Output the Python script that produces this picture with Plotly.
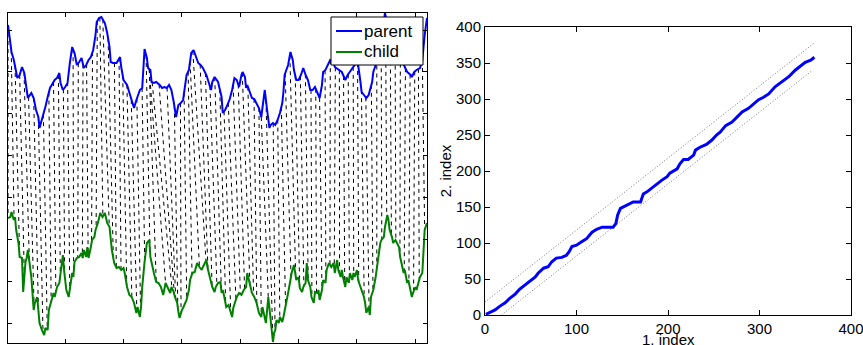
import numpy as np
import plotly.graph_objects as go

# ---------------- data ----------------
parent_idx = [1, 4, 6, 7, 9, 11, 13, 15, 17, 18, 21, 23, 25, 27, 28, 30, 33, 35, 37, 39, 41, 43, 45, 46, 48, 50,
              52, 54, 56, 58, 60, 62, 64, 66, 68, 70, 72, 74, 76, 77, 79, 81, 84, 86, 88, 89, 91, 94, 96, 97, 98,
              100, 103, 105, 107, 109, 111, 114, 116, 117, 118, 120, 121, 123, 124, 126, 128, 131, 133, 135, 137,
              139, 141, 143, 145, 147, 149, 151, 154, 156, 158, 160, 162, 164, 166, 168, 171, 173, 175, 176, 178,
              181, 182, 184, 185, 187, 189, 191, 193, 195, 197, 199, 201, 202, 204, 205, 206, 208, 210, 212, 214,
              216, 218, 220, 221, 223, 225, 226, 228, 230, 232, 234, 236, 237, 238, 241, 243, 245, 246, 248, 250,
              252, 254, 256, 258, 260, 262, 264, 266, 268, 270, 271, 273, 275, 277, 280, 281, 287, 290, 292, 294,
              296, 298, 300, 301, 303, 304, 306, 308, 310, 311, 313, 314, 316, 318, 322, 324, 327, 330, 334, 337,
              341, 343, 346, 347, 349, 351, 354, 356, 358, 360]
parent_val = [318, 291, 283, 278, 265, 268, 276, 270, 253, 245, 250, 245, 233, 226, 215, 223, 236, 246, 255, 259,
              263, 265, 270, 260, 253, 256, 260, 280, 296, 290, 278, 281, 285, 275, 278, 283, 286, 293, 308, 321,
              325, 326, 320, 310, 296, 281, 280, 280, 285, 286, 276, 263, 258, 250, 241, 235, 243, 253, 255, 280,
              294, 285, 275, 273, 261, 260, 261, 258, 255, 256, 255, 258, 253, 241, 226, 238, 240, 243, 268, 273,
              290, 293, 286, 280, 278, 275, 268, 261, 253, 261, 266, 261, 256, 246, 230, 233, 238, 244, 253, 265,
              263, 256, 268, 271, 266, 255, 258, 251, 245, 244, 240, 235, 226, 243, 253, 233, 215, 218, 220, 218,
              223, 230, 240, 251, 268, 278, 291, 283, 273, 263, 263, 268, 275, 268, 263, 253, 253, 256, 251, 245,
              258, 271, 273, 278, 283, 280, 276, 271, 263, 268, 271, 275, 278, 282, 278, 261, 251, 248, 245, 248,
              253, 261, 271, 278, 293, 313, 330, 313, 298, 303, 288, 276, 271, 268, 266, 271, 273, 275, 283, 308,
              325]

child_idx = [1, 3, 4, 6, 7, 8, 10, 11, 13, 14, 16, 17, 18, 20, 21, 23, 24, 26, 27, 28, 30, 32, 33, 35, 36, 38, 40,
             41, 43, 45, 46, 48, 49, 51, 53, 54, 56, 57, 58, 60, 62, 64, 65, 66, 68, 69, 70, 72, 73, 75, 76, 78, 80,
             82, 84, 86, 88, 90, 92, 94, 96, 98, 100, 101, 103, 105, 107, 109, 111, 112, 114, 115, 116, 118, 120,
             122, 123, 126, 128, 130, 132, 134, 135, 136, 138, 140, 141, 143, 144, 146, 147, 148, 150, 151, 154,
             156, 157, 159, 161, 163, 165, 167, 168, 171, 172, 174, 176, 178, 179, 181, 183, 184, 185, 186, 188,
             190, 192, 193, 194, 196, 197, 199, 201, 203, 205, 206, 208, 210, 212, 214, 216, 218, 219, 221, 222,
             224, 225, 226, 228, 229, 230, 231, 233, 234, 236, 237, 238, 240, 241, 243, 244, 246, 247, 248, 250,
             251, 253, 254, 256, 257, 258, 260, 261, 263, 264, 266, 267, 268, 270, 271, 273, 274, 276, 278, 280,
             281, 283, 284, 286, 287, 288, 290, 291, 293, 294, 296, 297, 298, 300, 301, 303, 304, 306, 307, 308,
             310, 311, 312, 314, 316, 317, 318, 320, 321, 323, 324, 326, 327, 328, 330, 331, 333, 334, 336, 337,
             338, 340, 341, 343, 344, 346, 347, 348, 350, 351, 353, 354, 356, 357, 358, 360]
child_val = [125, 126, 131, 123, 126, 113, 100, 86, 85, 51, 81, 85, 93, 76, 66, 33, 40, 46, 36, 20, 13, 8, 15, 13,
             33, 41, 50, 46, 56, 60, 70, 88, 73, 53, 46, 56, 70, 66, 81, 85, 86, 90, 85, 93, 86, 96, 85, 96, 103,
             106, 113, 120, 130, 126, 130, 120, 116, 93, 80, 75, 76, 73, 75, 70, 56, 48, 46, 40, 30, 36, 26, 36, 56,
             81, 100, 103, 86, 70, 61, 60, 56, 48, 56, 60, 55, 50, 56, 51, 46, 40, 31, 25, 33, 35, 43, 53, 63, 70,
             71, 80, 76, 73, 76, 83, 75, 66, 56, 51, 56, 60, 61, 50, 53, 48, 36, 38, 30, 26, 35, 43, 46, 50, 48, 53,
             56, 70, 61, 50, 46, 40, 30, 26, 36, 25, 20, 46, 33, 20, 1, 10, 13, 23, 20, 26, 21, 26, 33, 43, 50, 63,
             70, 78, 70, 63, 66, 55, 51, 56, 60, 80, 63, 56, 46, 40, 51, 50, 53, 43, 53, 63, 60, 73, 80, 76, 80, 70,
             83, 73, 66, 73, 66, 56, 66, 60, 70, 63, 70, 66, 73, 63, 56, 53, 46, 40, 30, 36, 28, 46, 53, 66, 76, 86,
             100, 103, 106, 116, 128, 123, 113, 106, 100, 103, 100, 96, 86, 80, 70, 73, 60, 63, 53, 46, 50, 56, 53,
             63, 66, 70, 100, 113, 120]

# warping path (1. index = child, 2. index = parent)
path_i = [1, 5, 11, 16, 22, 27, 33, 38, 44, 49, 55, 58, 64, 69, 71, 73, 78, 84, 89, 92, 95, 100, 106, 111, 117,
          122, 128, 133, 140, 143, 145, 148, 153, 158, 162, 170, 173, 177, 182, 188, 193, 199, 202, 210, 213, 217,
          222, 228, 230, 235, 242, 248, 253, 257, 263, 270, 275, 281, 288, 295, 299, 304, 310, 317, 325, 332, 339,
          346, 350, 356, 360]
path_j = [1, 3, 7, 12, 17, 23, 29, 36, 42, 48, 53, 58, 65, 67, 71, 74, 79, 80, 83, 88, 95, 97, 102, 106, 115, 119,
          122, 122, 122, 127, 139, 148, 151, 155, 157, 157, 168, 171, 176, 183, 187, 192, 197, 203, 210, 216, 216,
          222, 229, 233, 237, 243, 250, 254, 263, 268, 275, 282, 287, 294, 299, 302, 307, 317, 324, 331, 340, 347,
          351, 354, 358]

# Sakoe-Chiba window limits
band_upper_i = [0, 359]
band_upper_j = [18, 377]
band_lower_i = [18, 358]
band_lower_j = [0, 340]

n_parent = 360
connector_step = 8

# ---------------- connectors (parent[j] <-> child[i]) ----------------
pi = np.array(path_i, float)
pj = np.array(path_j, float)
s = pi + pj
sv = np.arange(s[0], s[-1] + 0.1, connector_step)
ci = np.interp(sv, s, pi)
cj = np.interp(sv, s, pj)
yp = np.interp(cj, parent_idx, parent_val)
yc = np.interp(ci, child_idx, child_val)
cx, cy = [], []
for a, b, c, d in zip(cj, yp, ci, yc):
    cx += [a, c, None]
    cy += [b, d, None]

FONT = "Liberation Sans, Arial, sans-serif"
W, H = 863, 345

fig = go.Figure()
fig.add_trace(go.Scatter(x=cx, y=cy, mode="lines", xaxis="x", yaxis="y", showlegend=False,
                         line=dict(color="black", width=1, dash="4px,4px"), hoverinfo="skip"))
fig.add_trace(go.Scatter(x=parent_idx, y=parent_val, mode="lines", name="parent", xaxis="x", yaxis="y",
                         showlegend=False, line=dict(color="#0000FF", width=2)))
fig.add_trace(go.Scatter(x=child_idx, y=child_val, mode="lines", name="child", xaxis="x", yaxis="y",
                         showlegend=False, line=dict(color="#008000", width=2)))

fig.add_trace(go.Scatter(x=band_upper_i, y=band_upper_j, mode="lines", xaxis="x2", yaxis="y2", showlegend=False,
                         line=dict(color="#777777", width=1, dash="1px,2px")))
fig.add_trace(go.Scatter(x=band_lower_i, y=band_lower_j, mode="lines", xaxis="x2", yaxis="y2", showlegend=False,
                         line=dict(color="#777777", width=1, dash="1px,2px")))
fig.add_trace(go.Scatter(x=path_i, y=path_j, mode="lines", xaxis="x2", yaxis="y2", showlegend=False,
                         line=dict(color="#0000FF", width=3)))

axis_common = dict(showline=True, linecolor="black", linewidth=1, mirror="allticks", ticks="inside",
                   tickcolor="black", showgrid=False, zeroline=False)


# positions given in page pixels, converted to paper fractions
def px(x):
    return x / W


def py(y):
    return 1 - y / H


legend_items = [("parent", "#0000FF", 31), ("child", "#008000", 52)]
shapes = [dict(type="rect", xref="paper", yref="paper", x0=px(331), x1=px(423), y0=py(65), y1=py(17),
               fillcolor="white", line=dict(color="black", width=1), layer="above")]
annotations = []
for name, color, yy in legend_items:
    shapes.append(dict(type="line", xref="paper", yref="paper", x0=px(336), x1=px(362), y0=py(yy), y1=py(yy),
                       line=dict(color=color, width=2), layer="above"))
    annotations.append(dict(text=name, xref="paper", yref="paper", x=px(362), y=py(yy), xanchor="left",
                            yanchor="middle", showarrow=False, font=dict(size=17, family=FONT, color="black")))

annotations.append(dict(text="1. index", xref="paper", yref="paper", x=px(668), y=py(339.5), xanchor="center",
                        yanchor="middle", showarrow=False, font=dict(size=15, family=FONT, color="black")))

fig.update_layout(
    width=W, height=H,
    margin=dict(l=0, r=0, t=0, b=0, autoexpand=False),
    paper_bgcolor="white", plot_bgcolor="white",
    font=dict(family=FONT, color="black", size=15),
    xaxis=dict(domain=[8 / W, 427 / W], range=[1, n_parent], tickvals=list(range(50, n_parent, 50)),
               showticklabels=False, ticklen=4, anchor="y", **axis_common),
    yaxis=dict(domain=[1 - 343 / H, 1 - 13 / H], range=[min(child_val) - 1, max(parent_val)],
               tick0=20, dtick=41.85, tickmode="linear", showticklabels=False, ticklen=4, anchor="x",
               **axis_common),
    xaxis2=dict(domain=[485 / W, 851 / W], range=[0, 400], dtick=100, tickmode="linear", ticklen=5,
                anchor="y2", tickfont=dict(size=15), ticklabeloverflow="allow", **axis_common),
    yaxis2=dict(domain=[1 - 315 / H, 1 - 27 / H], range=[0, 400], dtick=50, tickmode="linear", ticklen=5,
                anchor="x2", tickfont=dict(size=15), ticklabeloverflow="allow",
                title=dict(text="2. index", standoff=0, font=dict(size=15)), **axis_common),
    shapes=shapes,
    annotations=annotations,
    showlegend=False,
)

fig.write_html("out.html")
